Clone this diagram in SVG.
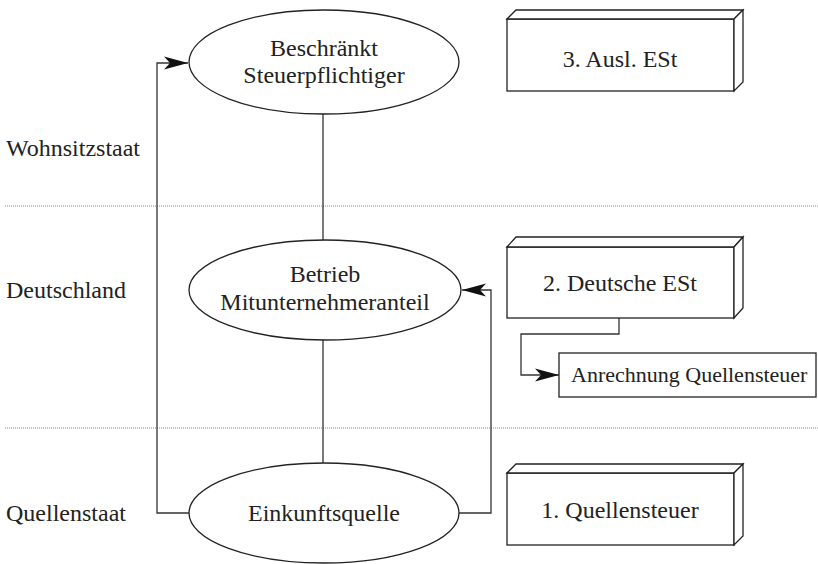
<svg xmlns="http://www.w3.org/2000/svg" width="818" height="564" viewBox="0 0 818 564">
<style>
.t{font-family:"Liberation Serif","Times New Roman",serif;font-size:24px;fill:#222;}
.s{font-size:22px;}
.sh{fill:#fff;stroke:#222;stroke-width:1.3;}
.ln{fill:none;stroke:#333;stroke-width:1.3;}
.dot{stroke:#888;stroke-width:1;stroke-dasharray:1 1;}
</style>
<defs>
<marker id="ah" markerUnits="userSpaceOnUse" markerWidth="26" markerHeight="14" refX="24" refY="7" orient="auto">
<path d="M0,0.5 L24,7 L0,13.5 L6,7 Z" fill="#111"/>
</marker>
</defs>
<g id="zones">
<line class="dot" x1="5" y1="206" x2="818" y2="206"/>
<line class="dot" x1="5" y1="428" x2="818" y2="428"/>
<text class="t" x="6" y="156">Wohnsitzstaat</text>
<text class="t" x="6" y="298">Deutschland</text>
<text class="t" x="6" y="521">Quellenstaat</text>
</g>
<g id="connectors">
<line class="ln" x1="323" y1="113" x2="323" y2="240"/>
<line class="ln" x1="323" y1="340" x2="323" y2="463"/>
<polyline class="ln" points="189,513 157,513 157,63 188,63" marker-end="url(#ah)"/>
<polyline class="ln" points="459,513 491,513 491,290 462,290" marker-end="url(#ah)"/>
<polyline class="ln" points="619,318 619,334 521,334 521,375 559,375" marker-end="url(#ah)"/>
</g>
<g id="n-beschraenkt">
<ellipse class="sh" cx="324" cy="62" rx="135" ry="52"/>
<text class="t" x="324" y="56" text-anchor="middle">Beschränkt</text>
<text class="t" x="324" y="83" text-anchor="middle">Steuerpflichtiger</text>
</g>
<g id="n-betrieb">
<ellipse class="sh" cx="325" cy="290" rx="136" ry="50"/>
<text class="t" x="325" y="282" text-anchor="middle">Betrieb</text>
<text class="t" x="325" y="310" text-anchor="middle">Mitunternehmeranteil</text>
</g>
<g id="n-einkunft">
<ellipse class="sh" cx="324" cy="513" rx="135" ry="50"/>
<text class="t" x="324" y="521" text-anchor="middle">Einkunftsquelle</text>
</g>
<g id="n-ausl">
<rect class="sh" x="507" y="19" width="227" height="72"/>
<polygon class="sh" points="507,19 516,10 743,10 734,19"/>
<polygon class="sh" points="734,19 743,10 743,82 734,91"/>
<text class="t" x="620" y="67" text-anchor="middle">3. Ausl. ESt</text>
</g>
<g id="n-deutsche">
<rect class="sh" x="507" y="247" width="227" height="71"/>
<polygon class="sh" points="507,247 516,237 743,237 734,247"/>
<polygon class="sh" points="734,247 743,237 743,308 734,318"/>
<text class="t" x="620" y="291" text-anchor="middle">2. Deutsche ESt</text>
</g>
<g id="n-anrechnung">
<rect class="sh" x="559" y="353" width="257" height="44"/>
<text class="t s" x="571" y="382">Anrechnung Quellensteuer</text>
</g>
<g id="n-quellensteuer">
<rect class="sh" x="507" y="473" width="227" height="72"/>
<polygon class="sh" points="507,473 516,464 743,464 734,473"/>
<polygon class="sh" points="734,473 743,464 743,536 734,545"/>
<text class="t" x="620" y="518" text-anchor="middle">1. Quellensteuer</text>
</g>
</svg>
